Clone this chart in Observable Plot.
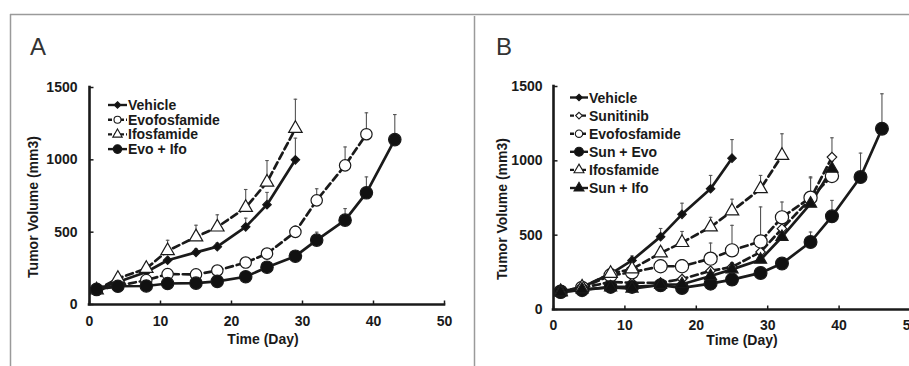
<!DOCTYPE html>
<html><head><meta charset="utf-8">
<script src="https://cdn.jsdelivr.net/npm/d3@7"></script>
<script src="https://cdn.jsdelivr.net/npm/@observablehq/plot@0.6"></script>
<style>
body{margin:0;background:#fff;}
#wrap{position:relative;width:909px;height:366px;overflow:hidden;background:#fff;font-family:"Liberation Sans",Arial,sans-serif;}
.panel{position:absolute;top:0;}
#overlay{position:absolute;left:0;top:0;pointer-events:none;}
</style></head><body><div id="wrap"></div>
<script>
// ---------- Data: panel A ----------
const daysA = [1, 4, 8, 11, 15, 18, 22, 25, 29, 32, 36, 39, 43];
const vehicleA = [105, 156, 225, 306, 360, 400, 537, 690, 1000];
const vehicleErrA = [5, 10, 15, 20, 25, 25, 60, 85, 150];
const evoA = [100, 130, 168, 210, 208, 235, 290, 352, 502, 720, 962, 1177];
const evoErrA = [5, 10, 15, 35, 15, 20, 25, 30, 40, 80, 127, 148];
const ifoA = [100, 180, 249, 371, 467, 535, 670, 845, 1216];
const ifoErrA = [5, 15, 25, 73, 81, 85, 125, 150, 203];
const evoIfoA = [105, 126, 128, 145, 148, 160, 192, 258, 334, 445, 583, 772, 1140];
const evoIfoErrA = [5, 5, 8, 10, 10, 12, 20, 25, 30, 55, 80, 110, 173];

// ---------- Data: panel B ----------
const daysB = [1, 4, 8, 11, 15, 18, 22, 25, 29, 32, 36, 39, 43, 46];
const vehicleB = [120, 150, 240, 330, 490, 640, 812, 1018];
const vehicleErrB = [5, 10, 20, 30, 55, 75, 90, 125];
const sunB = [120, 145, 185, 180, 180, 205, 260, 286, 387, 544, 745, 1025];
const sunErrB = [5, 10, 15, 15, 15, 20, 25, 30, 40, 60, 140, 130];
const evoB = [120, 145, 230, 250, 291, 291, 342, 398, 458, 620, 752, 898];
const evoErrB = [5, 10, 20, 30, 40, 45, 105, 168, 232, 103, 140, 100];
const sunEvoB = [118, 130, 152, 152, 163, 145, 174, 201, 246, 309, 454, 627, 891, 1216];
const sunEvoErrB = [5, 5, 10, 10, 10, 10, 15, 20, 25, 30, 67, 107, 161, 235];
const ifoB = [120, 150, 242, 272, 380, 450, 555, 662, 812, 1036];
const ifoErrB = [5, 10, 20, 30, 40, 75, 65, 80, 90, 146];
const sunIfoB = [115, 135, 148, 141, 165, 170, 225, 270, 335, 488, 712, 947];
const sunIfoErrB = [5, 5, 10, 10, 10, 15, 20, 25, 30, 40, 60, 100];

const xTicks = [0, 10, 20, 30, 40, 50];
const yTicks = [0, 500, 1000, 1500];
const xTitle = "Time (Day)";
const yTitle = "Tumor Volume (mm3)";

// ---------- Styles ----------
const seriesA = [
  {name: "Vehicle", values: vehicleA, err: vehicleErrA, symbol: "diamond2", d3s: d3.symbolDiamond2, fill: "#111", dashed: false, r: 3.8, lr: 3},
  {name: "Evofosfamide", values: evoA, err: evoErrA, symbol: "circle", d3s: d3.symbolCircle, fill: "#fff", dashed: true, r: 5.7, lr: 3.5},
  {name: "Ifosfamide", values: ifoA, err: ifoErrA, symbol: "triangle", d3s: d3.symbolTriangle, fill: "#fff", dashed: true, r: 5, lr: 3.5},
  {name: "Evo + Ifo", values: evoIfoA, err: evoIfoErrA, symbol: "circle", d3s: d3.symbolCircle, fill: "#111", dashed: false, r: 6.2, lr: 4.3}
];
const seriesB = [
  {name: "Vehicle", values: vehicleB, err: vehicleErrB, symbol: "diamond2", d3s: d3.symbolDiamond2, fill: "#111", dashed: false, r: 3.8, lr: 3},
  {name: "Sunitinib", values: sunB, err: sunErrB, symbol: "diamond2", d3s: d3.symbolDiamond2, fill: "#fff", dashed: true, r: 4.3, lr: 3},
  {name: "Evofosfamide", values: evoB, err: evoErrB, symbol: "circle", d3s: d3.symbolCircle, fill: "#fff", dashed: true, r: 6.6, lr: 3.7},
  {name: "Sun + Evo", values: sunEvoB, err: sunEvoErrB, symbol: "circle", d3s: d3.symbolCircle, fill: "#111", dashed: false, r: 6.4, lr: 4.5},
  {name: "Ifosfamide", values: ifoB, err: ifoErrB, symbol: "triangle", d3s: d3.symbolTriangle, fill: "#fff", dashed: true, r: 5, lr: 3.7},
  {name: "Sun + Ifo", values: sunIfoB, err: sunIfoErrB, symbol: "triangle", d3s: d3.symbolTriangle, fill: "#111", dashed: false, r: 4.5, lr: 3.7}
];

const FONT = '"Liberation Sans", Arial, sans-serif';
const INK = "#1a1a1a";
const tickUp = {draw(ctx) { ctx.moveTo(0, 0); ctx.lineTo(0, -4); }};
const tickRight = {draw(ctx) { ctx.moveTo(0, 0); ctx.lineTo(4, 0); }};

function panel(cfg) {
  const {days, series} = cfg;
  const marks = [];
  for (const s of series) {
    const data = s.values.map((v, i) => ({day: days[i], v, top: v + s.err[i]}));
    marks.push(Plot.ruleX(data, {x: "day", y1: "v", y2: "top", stroke: "#555", strokeWidth: 1.1}));
    marks.push(Plot.link(data, {x1: d => d.day - 0.25, x2: d => d.day + 0.25, y1: "top", y2: "top", stroke: "#555", strokeWidth: 1.1}));
  }
  for (const s of series) {
    const data = s.values.map((v, i) => ({day: days[i], v}));
    marks.push(Plot.line(data, {x: "day", y: "v", stroke: INK, strokeWidth: 2.7,
      strokeDasharray: s.dashed ? "7,4" : null}));
  }
  for (const s of series) {
    const data = s.values.map((v, i) => ({day: days[i], v}));
    marks.push(Plot.dot(data, {x: "day", y: "v", symbol: s.symbol, r: s.r, fill: s.fill, stroke: INK, strokeWidth: 1.2}));
  }
  marks.push(Plot.ruleY([0], {stroke: INK, strokeWidth: 2.6, strokeLinecap: "square"}));
  marks.push(Plot.ruleX([0], {stroke: INK, strokeWidth: 2.6, strokeLinecap: "square"}));
  marks.push(Plot.dot(xTicks, {x: d => d, y: 0, symbol: tickUp, stroke: INK, strokeWidth: 1.5, fill: "none"}));
  marks.push(Plot.dot(yTicks, {x: 0, y: d => d, symbol: tickRight, stroke: INK, strokeWidth: 1.5, fill: "none"}));
  marks.push(Plot.axisX({ticks: xTicks, tickSize: 0, tickPadding: cfg.xPad, label: null, tickFormat: d => String(d), fontSize: 14, fontWeight: "bold"}));
  marks.push(Plot.axisY({ticks: yTicks, tickSize: 0, tickPadding: cfg.yPad, label: null, tickFormat: d => String(d), fontSize: 14, fontWeight: "bold"}));
  marks.push(Plot.text([xTitle], {frameAnchor: "bottom", dy: cfg.xTitleDy, dx: cfg.xTitleDx, text: d => d, fontSize: 14, fontWeight: "bold", fill: INK, textAnchor: "middle"}));
  marks.push(Plot.text([yTitle], {frameAnchor: "left", rotate: -90, dx: cfg.yTitleDx, dy: 11, text: d => d, fontSize: 14, fontWeight: "bold", fill: INK, textAnchor: "middle"}));

  const p = Plot.plot({
    width: cfg.width, height: 366,
    marginLeft: cfg.marginLeft, marginRight: cfg.marginRight,
    marginTop: cfg.marginTop, marginBottom: cfg.marginBottom,
    x: {domain: [0, 50]},
    y: {domain: [0, 1500]},
    style: {fontFamily: FONT, fontSize: "14px", fontWeight: "bold", color: INK, background: "transparent", overflow: "visible"},
    marks
  });

  // legend
  const g = d3.select(p).append("g").attr("class", "legend");
  series.forEach((s, i) => {
    const y = cfg.legY + i * cfg.legStep;
    g.append("line").attr("x1", cfg.legX0).attr("x2", cfg.legX1).attr("y1", y).attr("y2", y)
      .attr("stroke", INK).attr("stroke-width", 2.4)
      .attr("stroke-dasharray", s.dashed ? "4,2" : null);
    g.append("path").attr("d", d3.symbol(s.d3s, Math.PI * s.lr * s.lr)())
      .attr("transform", `translate(${(cfg.legX0 + cfg.legX1) / 2},${y})`)
      .attr("fill", s.fill).attr("stroke", INK).attr("stroke-width", 1.1);
    g.append("text").attr("x", cfg.legX1 + 1).attr("y", y).attr("dy", "0.36em")
      .attr("text-anchor", "start")
      .attr("font-size", 14).attr("font-weight", "bold").attr("fill", INK)
      .attr("font-family", FONT).text(s.name);
  });

  p.classList.add("panel");
  p.style.left = cfg.left + "px";
  return p;
}

const wrap = document.getElementById("wrap");
wrap.appendChild(panel({
  days: daysA, series: seriesA, left: 0, width: 455,
  marginLeft: 89, marginRight: 11, marginTop: 87, marginBottom: 62,
  xPad: 12, yPad: 12, xTitleDy: 39, xTitleDx: -4, yTitleDx: -56,
  legY: 105, legStep: 14.7, legX0: 108, legX1: 127
}));
wrap.appendChild(panel({
  days: daysB, series: seriesB, left: 455, width: 470,
  marginLeft: 98, marginRight: 15, marginTop: 86, marginBottom: 57,
  xPad: 11, yPad: 11, xTitleDy: 35, xTitleDx: 10, yTitleDx: -51,
  legY: 97.5, legStep: 18.1, legX0: 115, legX1: 133
}));

// frame lines and panel letters
const ov = d3.select(wrap).append("svg").attr("id", "overlay").attr("width", 909).attr("height", 366);
ov.append("line").attr("x1", 10).attr("x2", 909).attr("y1", 14.5).attr("y2", 14.5).attr("stroke", "#9a9a9a").attr("stroke-width", 1.5);
ov.append("line").attr("x1", 10.5).attr("x2", 10.5).attr("y1", 14).attr("y2", 366).attr("stroke", "#9a9a9a").attr("stroke-width", 1.5);
ov.append("line").attr("x1", 474.5).attr("x2", 474.5).attr("y1", 16).attr("y2", 366).attr("stroke", "#9a9a9a").attr("stroke-width", 1.5);
ov.append("text").attr("x", 30).attr("y", 55).attr("font-size", 24).attr("font-family", FONT).attr("fill", "#333").text("A");
ov.append("text").attr("x", 496).attr("y", 55).attr("font-size", 24).attr("font-family", FONT).attr("fill", "#333").text("B");
</script></body></html>
